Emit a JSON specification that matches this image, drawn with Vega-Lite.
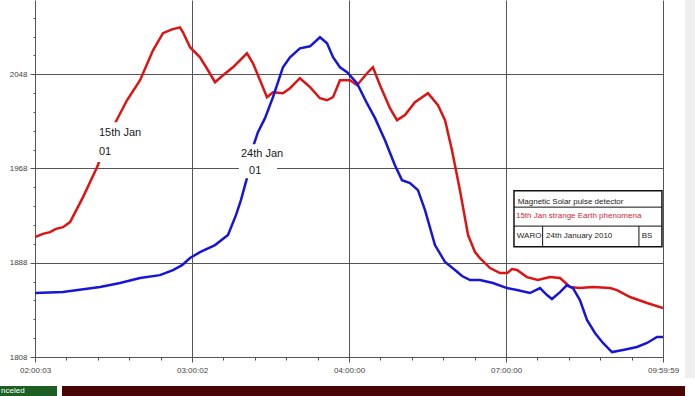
{
  "$schema": "https://vega.github.io/schema/vega-lite/v6.json",
  "padding": 0,
  "spacing": 7,
  "background": "white",
  "config": {"view": {"stroke": null}, "font": "Liberation Sans", "concat": {"spacing": 7}},
  "datasets": {
    "series": [
      {"t": 0, "v": 1909.8, "s": "15th Jan"}, {"t": 6, "v": 1912.5, "s": "15th Jan"}, {"t": 11.5, "v": 1914.0, "s": "15th Jan"}, {"t": 16, "v": 1916.8, "s": "15th Jan"}, {"t": 21.4, "v": 1918.2, "s": "15th Jan"},
      {"t": 26.8, "v": 1922.5, "s": "15th Jan"}, {"t": 36.7, "v": 1943.7, "s": "15th Jan"}, {"t": 47.4, "v": 1969.1, "s": "15th Jan"}, {"t": 59.6, "v": 2003.0, "s": "15th Jan"},
      {"t": 70.3, "v": 2025.9, "s": "15th Jan"}, {"t": 80.3, "v": 2042.9, "s": "15th Jan"}, {"t": 90.2, "v": 2068.3, "s": "15th Jan"}, {"t": 97.8, "v": 2082.8, "s": "15th Jan"},
      {"t": 104.7, "v": 2086.1, "s": "15th Jan"}, {"t": 110.8, "v": 2087.8, "s": "15th Jan"}, {"t": 113.1, "v": 2083.6, "s": "15th Jan"}, {"t": 118.5, "v": 2070.9, "s": "15th Jan"},
      {"t": 126.1, "v": 2062.4, "s": "15th Jan"}, {"t": 132.2, "v": 2051.4, "s": "15th Jan"}, {"t": 137.6, "v": 2041.2, "s": "15th Jan"}, {"t": 143.7, "v": 2047.1, "s": "15th Jan"},
      {"t": 151.3, "v": 2053.9, "s": "15th Jan"}, {"t": 162.0, "v": 2065.8, "s": "15th Jan"}, {"t": 166.6, "v": 2057.3, "s": "15th Jan"}, {"t": 172.0, "v": 2042.9, "s": "15th Jan"},
      {"t": 177.3, "v": 2028.5, "s": "15th Jan"}, {"t": 181.9, "v": 2032.7, "s": "15th Jan"}, {"t": 189.5, "v": 2031.9, "s": "15th Jan"}, {"t": 194.9, "v": 2036.1, "s": "15th Jan"},
      {"t": 202.5, "v": 2044.6, "s": "15th Jan"}, {"t": 210.2, "v": 2037.0, "s": "15th Jan"}, {"t": 217.8, "v": 2027.6, "s": "15th Jan"}, {"t": 223.2, "v": 2025.9, "s": "15th Jan"},
      {"t": 227.8, "v": 2028.5, "s": "15th Jan"}, {"t": 233.1, "v": 2042.9, "s": "15th Jan"}, {"t": 240.8, "v": 2042.9, "s": "15th Jan"}, {"t": 246.1, "v": 2038.7, "s": "15th Jan"},
      {"t": 254.5, "v": 2049.7, "s": "15th Jan"}, {"t": 258.3, "v": 2053.9, "s": "15th Jan"}, {"t": 263.7, "v": 2038.7, "s": "15th Jan"}, {"t": 271.3, "v": 2019.2, "s": "15th Jan"},
      {"t": 276.7, "v": 2009.0, "s": "15th Jan"}, {"t": 282.8, "v": 2013.3, "s": "15th Jan"}, {"t": 290.4, "v": 2024.2, "s": "15th Jan"}, {"t": 300.4, "v": 2031.9, "s": "15th Jan"},
      {"t": 308.0, "v": 2021.7, "s": "15th Jan"}, {"t": 313.4, "v": 2009.0, "s": "15th Jan"}, {"t": 318.7, "v": 1983.5, "s": "15th Jan"}, {"t": 324.8, "v": 1949.6, "s": "15th Jan"},
      {"t": 331.0, "v": 1911.5, "s": "15th Jan"}, {"t": 336.3, "v": 1897.0, "s": "15th Jan"}, {"t": 340.1, "v": 1892.0, "s": "15th Jan"}, {"t": 347.8, "v": 1883.5, "s": "15th Jan"},
      {"t": 355.4, "v": 1879.2, "s": "15th Jan"}, {"t": 360.8, "v": 1879.2, "s": "15th Jan"}, {"t": 364.6, "v": 1882.6, "s": "15th Jan"}, {"t": 368.4, "v": 1881.8, "s": "15th Jan"},
      {"t": 376.0, "v": 1875.8, "s": "15th Jan"}, {"t": 384.4, "v": 1873.3, "s": "15th Jan"}, {"t": 393.6, "v": 1875.8, "s": "15th Jan"}, {"t": 401.3, "v": 1875.0, "s": "15th Jan"},
      {"t": 408.9, "v": 1867.4, "s": "15th Jan"}, {"t": 416.5, "v": 1866.5, "s": "15th Jan"}, {"t": 426.5, "v": 1867.4, "s": "15th Jan"}, {"t": 439.5, "v": 1866.5, "s": "15th Jan"},
      {"t": 444.8, "v": 1864.8, "s": "15th Jan"}, {"t": 454.8, "v": 1858.9, "s": "15th Jan"}, {"t": 467.8, "v": 1853.8, "s": "15th Jan"}, {"t": 480, "v": 1849.6, "s": "15th Jan"},

      {"t": 0, "v": 1862.3, "s": "24th Jan"}, {"t": 21.4, "v": 1863.1, "s": "24th Jan"}, {"t": 49.7, "v": 1867.4, "s": "24th Jan"}, {"t": 65.0, "v": 1870.8, "s": "24th Jan"},
      {"t": 80.3, "v": 1875.0, "s": "24th Jan"}, {"t": 95.5, "v": 1877.5, "s": "24th Jan"}, {"t": 105.5, "v": 1881.8, "s": "24th Jan"}, {"t": 112.4, "v": 1886.0, "s": "24th Jan"},
      {"t": 118.5, "v": 1892.0, "s": "24th Jan"}, {"t": 126.1, "v": 1897.0, "s": "24th Jan"}, {"t": 137.6, "v": 1903.0, "s": "24th Jan"}, {"t": 147.5, "v": 1911.5, "s": "24th Jan"},
      {"t": 153.6, "v": 1928.4, "s": "24th Jan"}, {"t": 157.4, "v": 1941.1, "s": "24th Jan"}, {"t": 162.0, "v": 1959.8, "s": "24th Jan"}, {"t": 166.6, "v": 1986.1, "s": "24th Jan"},
      {"t": 170.4, "v": 1998.8, "s": "24th Jan"}, {"t": 175.8, "v": 2010.7, "s": "24th Jan"}, {"t": 181.9, "v": 2028.5, "s": "24th Jan"}, {"t": 189.5, "v": 2053.9, "s": "24th Jan"},
      {"t": 194.9, "v": 2062.4, "s": "24th Jan"}, {"t": 202.5, "v": 2070.0, "s": "24th Jan"}, {"t": 210.2, "v": 2071.7, "s": "24th Jan"}, {"t": 217.8, "v": 2079.4, "s": "24th Jan"},
      {"t": 223.2, "v": 2074.3, "s": "24th Jan"}, {"t": 227.8, "v": 2062.4, "s": "24th Jan"}, {"t": 233.1, "v": 2053.9, "s": "24th Jan"}, {"t": 238.5, "v": 2049.7, "s": "24th Jan"},
      {"t": 246.1, "v": 2040.4, "s": "24th Jan"}, {"t": 253.7, "v": 2023.4, "s": "24th Jan"}, {"t": 259.9, "v": 2010.7, "s": "24th Jan"}, {"t": 267.5, "v": 1992.0, "s": "24th Jan"},
      {"t": 275.1, "v": 1970.8, "s": "24th Jan"}, {"t": 280.5, "v": 1958.1, "s": "24th Jan"}, {"t": 286.6, "v": 1955.6, "s": "24th Jan"}, {"t": 292.7, "v": 1949.6, "s": "24th Jan"},
      {"t": 298.1, "v": 1932.7, "s": "24th Jan"}, {"t": 305.7, "v": 1903.0, "s": "24th Jan"}, {"t": 313.4, "v": 1888.6, "s": "24th Jan"}, {"t": 321.0, "v": 1881.8, "s": "24th Jan"},
      {"t": 326.4, "v": 1876.7, "s": "24th Jan"}, {"t": 332.5, "v": 1873.3, "s": "24th Jan"}, {"t": 340.1, "v": 1873.3, "s": "24th Jan"}, {"t": 350.0, "v": 1870.8, "s": "24th Jan"},
      {"t": 360.8, "v": 1866.5, "s": "24th Jan"}, {"t": 368.4, "v": 1864.8, "s": "24th Jan"}, {"t": 378.3, "v": 1862.3, "s": "24th Jan"}, {"t": 386.0, "v": 1866.5, "s": "24th Jan"},
      {"t": 391.3, "v": 1860.6, "s": "24th Jan"}, {"t": 395.1, "v": 1857.2, "s": "24th Jan"}, {"t": 401.3, "v": 1863.1, "s": "24th Jan"}, {"t": 406.6, "v": 1869.1, "s": "24th Jan"},
      {"t": 411.2, "v": 1866.5, "s": "24th Jan"}, {"t": 416.5, "v": 1856.3, "s": "24th Jan"}, {"t": 421.9, "v": 1839.4, "s": "24th Jan"}, {"t": 428.0, "v": 1828.4, "s": "24th Jan"},
      {"t": 434.1, "v": 1819.9, "s": "24th Jan"}, {"t": 441.0, "v": 1812.2, "s": "24th Jan"}, {"t": 449.4, "v": 1813.9, "s": "24th Jan"}, {"t": 460.1, "v": 1816.5, "s": "24th Jan"},
      {"t": 467.8, "v": 1819.9, "s": "24th Jan"}, {"t": 475.4, "v": 1825.0, "s": "24th Jan"}, {"t": 480, "v": 1825.0, "s": "24th Jan"}
    ],
    "labelBoxes": [
      {"x": 46.6, "x2": 84.1, "y": 2007.3, "y2": 1973.4},
      {"x": 155.9, "x2": 185.0, "y": 1988.6, "y2": 1959.8}
    ],
    "labels": [
      {"t": 48.9, "v": 1998.0, "text": "15th Jan"},
      {"t": 48.9, "v": 1981.8, "text": "01"},
      {"t": 157.4, "v": 1980.1, "text": "24th Jan"},
      {"t": 163.6, "v": 1966.0, "text": "01"}
    ],
    "infoBox": [{"x": 366.1, "x2": 479.2, "y": 1949.0, "y2": 1901.5}],
    "infoRules": [
      {"x": 366.1, "x2": 479.2, "y": 1935.2, "y2": 1935.2},
      {"x": 366.1, "x2": 479.2, "y": 1919.1, "y2": 1919.1},
      {"x": 388.0, "x2": 388.0, "y": 1919.1, "y2": 1901.5},
      {"x": 461.6, "x2": 461.6, "y": 1919.1, "y2": 1901.5}
    ],
    "infoText": [
      {"t": 368.9, "v": 1939.7, "text": "Magnetic Solar  pulse detector", "row": "title"},
      {"t": 367.6, "v": 1927.6, "text": "15th Jan strange Earth phenomena", "row": "event"},
      {"t": 368.3, "v": 1910.6, "text": "WARO", "row": "footer"},
      {"t": 390.6, "v": 1910.6, "text": "24th January 2010", "row": "footer"},
      {"t": 463.7, "v": 1910.6, "text": "BS", "row": "footer"}
    ],
    "frame": [{"x": 496.8, "x2": 504.4, "y": 1790, "y2": 2111}],
    "status": [
      {"start": 0, "end": 57, "state": "nceled"},
      {"start": 62, "end": 685, "state": "progress"}
    ]
  },
  "vconcat": [
    {
      "width": 628,
      "height": 357,
      "layer": [
        {
          "data": {"name": "frame"},
          "mark": {"type": "rect", "fill": "#efefef", "clip": false},
          "encoding": {
            "x": {"field": "x", "type": "quantitative"},
            "x2": {"field": "x2"},
            "y": {"field": "y", "type": "quantitative"},
            "y2": {"field": "y2"}
          }
        },
        {
          "data": {"name": "series"},
          "mark": {"type": "line", "strokeWidth": 2.5, "clip": true},
          "encoding": {
            "x": {
              "field": "t", "type": "quantitative",
              "scale": {"domain": [0, 480], "nice": false, "zero": false},
              "axis": {
                "title": null,
                "values": [0, 24, 48, 72, 96, 120, 144, 168, 192, 216, 240, 264, 288, 312, 336, 360, 384, 408, 432, 456, 480],
                "tickCount": 200,
                "labelExpr": "datum.value === 0 ? '02:00:03' : datum.value === 120 ? '03:00:02' : datum.value === 240 ? '04:00:00' : datum.value === 360 ? '07:00:00' : datum.value === 480 ? '09:59:59' : ''",
                "grid": true,
                "gridColor": "#555555",
                "gridOpacity": {"condition": {"test": "datum.value % 120 === 0 && datum.value > 0", "value": 1}, "value": 0},
                "tickSize": {"condition": {"test": "datum.value % 120 === 0", "value": 5}, "value": 3},
                "tickColor": "#555555",
                "domainColor": "#555555",
                "labelColor": "#444444",
                "labelFontSize": 8,
                "labelPadding": 4,
                "labelFlush": false,
                "labelOverlap": false,
                "minExtent": 22,
                "maxExtent": 22
              }
            },
            "y": {
              "field": "v", "type": "quantitative",
              "scale": {"domain": [1808, 2111], "nice": false, "zero": false},
              "axis": {
                "title": null,
                "values": [1808, 1824, 1840, 1856, 1872, 1888, 1904, 1920, 1936, 1952, 1968, 1984, 2000, 2016, 2032, 2048, 2064, 2080, 2096],
                "tickCount": 200,
                "labelExpr": "(datum.value - 1808) % 80 === 0 ? datum.value : ''",
                "grid": true,
                "gridColor": "#555555",
                "gridOpacity": {"condition": {"test": "(datum.value - 1808) % 80 === 0 && datum.value > 1808", "value": 1}, "value": 0},
                "tickSize": {"condition": {"test": "(datum.value - 1808) % 80 === 0", "value": 5}, "value": 2},
                "tickColor": "#555555",
                "domainColor": "#555555",
                "labelColor": "#444444",
                "labelFontSize": 8,
                "labelPadding": 3,
                "labelOverlap": false,
                "minExtent": 35,
                "maxExtent": 35
              }
            },
            "color": {
              "field": "s", "type": "nominal",
              "scale": {"domain": ["15th Jan", "24th Jan"], "range": ["#dd1414", "#1616d8"]},
              "legend": null
            }
          }
        },
        {
          "data": {"name": "labelBoxes"},
          "mark": {"type": "rect", "fill": "white"},
          "encoding": {
            "x": {"field": "x", "type": "quantitative"},
            "x2": {"field": "x2"},
            "y": {"field": "y", "type": "quantitative"},
            "y2": {"field": "y2"}
          }
        },
        {
          "data": {"name": "labels"},
          "mark": {"type": "text", "align": "left", "baseline": "middle", "fontSize": 11, "color": "#1a1a1a"},
          "encoding": {
            "x": {"field": "t", "type": "quantitative"},
            "y": {"field": "v", "type": "quantitative"},
            "text": {"field": "text"}
          }
        },
        {
          "data": {"name": "infoBox"},
          "mark": {"type": "rect", "fill": "white", "stroke": "#111111", "strokeWidth": 1.5},
          "encoding": {
            "x": {"field": "x", "type": "quantitative"},
            "x2": {"field": "x2"},
            "y": {"field": "y", "type": "quantitative"},
            "y2": {"field": "y2"}
          }
        },
        {
          "data": {"name": "infoRules"},
          "mark": {"type": "rule", "color": "#111111", "strokeWidth": 1},
          "encoding": {
            "x": {"field": "x", "type": "quantitative"},
            "x2": {"field": "x2"},
            "y": {"field": "y", "type": "quantitative"},
            "y2": {"field": "y2"}
          }
        },
        {
          "data": {"name": "infoText"},
          "mark": {"type": "text", "align": "left", "baseline": "middle", "fontSize": 8},
          "encoding": {
            "x": {"field": "t", "type": "quantitative"},
            "y": {"field": "v", "type": "quantitative"},
            "text": {"field": "text"},
            "color": {
              "field": "row", "type": "nominal",
              "scale": {"domain": ["title", "event", "footer"], "range": ["#222222", "#d0283c", "#222222"]},
              "legend": null
            }
          }
        }
      ],
      "resolve": {"scale": {"color": "independent"}}
    },
    {
      "width": 660,
      "height": 10,
      "data": {"name": "status"},
      "layer": [
        {
          "mark": {"type": "rect"},
          "encoding": {
            "x": {"field": "start", "type": "quantitative", "scale": {"domain": [35, 695], "nice": false, "zero": false}, "axis": null},
            "x2": {"field": "end"},
            "color": {"field": "state", "type": "nominal", "scale": {"domain": ["nceled", "progress"], "range": ["#1d5e22", "#4a0606"]}, "legend": null}
          }
        },
        {
          "transform": [{"filter": "datum.state === 'nceled'"}],
          "mark": {"type": "text", "align": "left", "baseline": "middle", "fontSize": 8, "color": "white", "dx": 1},
          "encoding": {
            "x": {"field": "start", "type": "quantitative"},
            "text": {"field": "state"}
          }
        }
      ]
    }
  ]
}
